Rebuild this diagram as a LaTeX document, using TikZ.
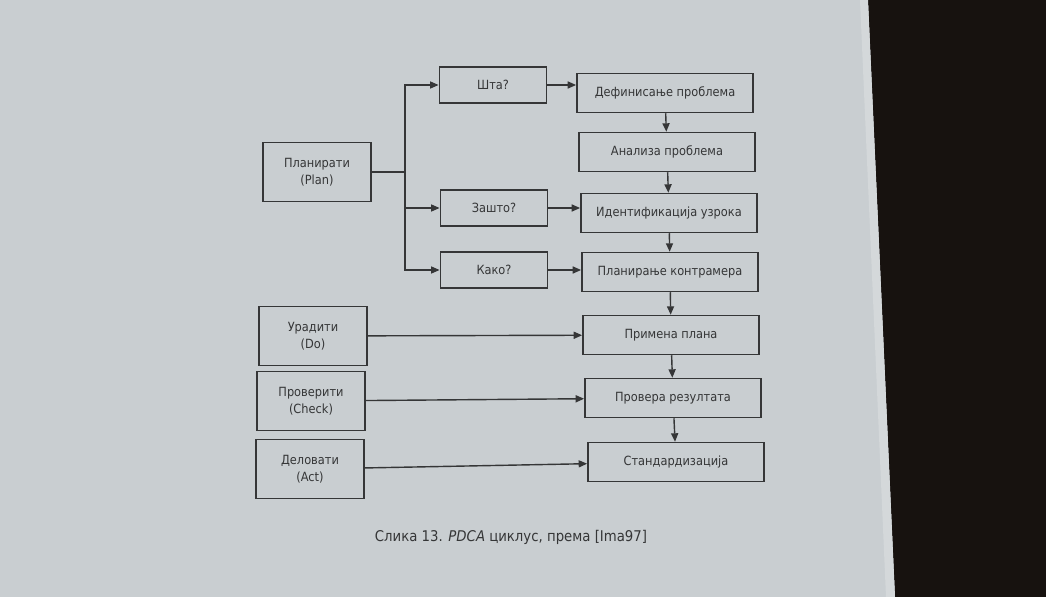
\documentclass[tikz,border=0pt]{standalone}
\usepackage{fontspec}
\setmainfont{DejaVu Sans Condensed}
\usepackage{tikz}
\usetikzlibrary{positioning, arrows.meta}
\definecolor{paper}{HTML}{C9CED1}
\definecolor{ink}{HTML}{353637}
\definecolor{desk}{HTML}{17120F}
\tikzset{
x=0.025cm, y=-0.025cm, % one unit is one pixel of the photo
every node/.style={font=\fontsize{9}{12}\selectfont, text=ink}, % text of all nodes
phase/.style={draw=ink, line width=1.2pt, minimum width=2.7cm, minimum height=1.48cm, align=center}, % PDCA phase on the left
question/.style={draw=ink, line width=1.2pt, minimum width=2.68cm, minimum height=0.9cm}, % short question
task/.style={draw=ink, line width=1.2pt, minimum width=4.4cm, minimum height=0.97cm}, % step on the right
link/.style={draw=ink, line width=1pt, -{Triangle[length=6pt, width=5pt]}}, % connectors
}

\begin{document}
\begin{tikzpicture}
    % page and desk
    \fill[paper] (0,0) rectangle (1046,597);
    \fill[desk] (868,0) -- (1046,0) -- (1046,597) -- (895,597) -- cycle;
    \fill[paper!80!white] (860,0) -- (868,0) -- (895,597) -- (886,597) -- cycle;

    \node[phase] (plan) at (317,172) {Планирати\\(Plan)};
    \node[phase] (do) at (313,336) {Урадити\\(Do)};
    \node[phase] (check) at (311,401) {Проверити\\(Check)};
    \node[phase] (act) at (310,469) {Деловати\\(Act)};

    \node[question] (what) at (493,85) {Шта?};
    \node[question] (why) at (494,208) {Зашто?};
    \node[question] (how) at (494,270) {Како?};

    \node[task] (define) at (665,93) {Дефинисање проблема};
    \node[task] (analyse) at (667,152) {Анализа проблема};
    \node[task] (cause) at (669,213) {Идентификација узрока};
    \node[task] (counter) at (670,272) {Планирање контрамера};
    \node[task] (apply) at (671,335) {Примена плана};
    \node[task] (verify) at (673,398) {Провера резултата};
    \node[task] (standard) at (676,462) {Стандардизација};

    \node (caption) at (511,537) {\fontsize{10.5}{12}\selectfont Слика 13. \textit{PDCA} циклус, према [Ima97]};

    \coordinate (fork) at (405,172);
    \draw[ink, line width=1pt] (plan.east) -- (fork);
    \draw[link] (fork) |- (what.west);
    \draw[link] (fork) |- (why.west);
    \draw[link] (fork) |- (how.west);

    \draw[link] (what) -- (what -| define.west);
    \draw[link] (why) -- (why -| cause.west);
    \draw[link] (how) -- (how -| counter.west);
    \draw[link] (do) -- (apply);
    \draw[link] (check) -- (verify);
    \draw[link] (act) -- (standard);

    \draw[link] (define) -- (analyse);
    \draw[link] (analyse) -- (cause);
    \draw[link] (cause) -- (counter);
    \draw[link] (counter) -- (apply);
    \draw[link] (apply) -- (verify);
    \draw[link] (verify) -- (standard);
\end{tikzpicture}
\end{document}
